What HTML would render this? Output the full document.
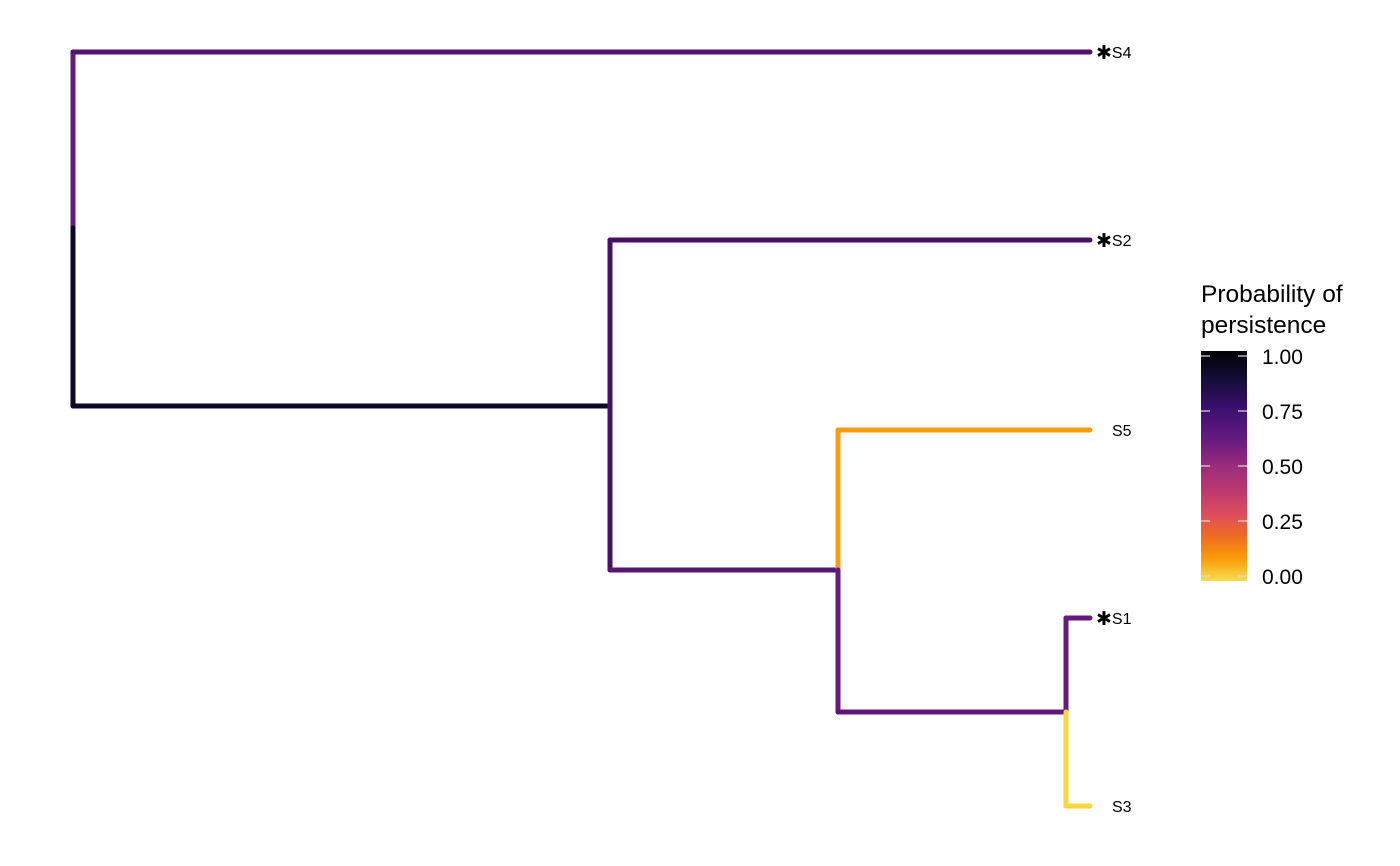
<!DOCTYPE html>
<html><head><meta charset="utf-8"><style>
html,body{margin:0;padding:0;background:#fff;}
svg{display:block;font-family:"Liberation Sans",sans-serif;}
</style></head><body>
<svg width="1400" height="866" viewBox="0 0 1400 866" xmlns="http://www.w3.org/2000/svg">
<defs>
<linearGradient id="g" x1="0" y1="0" x2="0" y2="1">
<stop offset="0" stop-color="#000004"/>
<stop offset="0.12" stop-color="#140e36"/>
<stop offset="0.25" stop-color="#3b0f70"/>
<stop offset="0.38" stop-color="#641a80"/>
<stop offset="0.5" stop-color="#9a2c7c"/>
<stop offset="0.62" stop-color="#c03a6e"/>
<stop offset="0.72" stop-color="#e0505a"/>
<stop offset="0.8" stop-color="#ed6925"/>
<stop offset="0.9" stop-color="#fb9b06"/>
<stop offset="1" stop-color="#f6dd50"/>
</linearGradient>
</defs>
<g stroke-width="5" stroke-linecap="round" fill="none">
<line x1="73" y1="52" x2="73" y2="228" stroke="#6a1b7a"/>
<line x1="73" y1="228" x2="73" y2="406" stroke="#0c0826"/>
<line x1="73" y1="52" x2="1090" y2="52" stroke="#52136f"/>
<line x1="73" y1="406" x2="610" y2="406" stroke="#0c0826"/>
<line x1="610" y1="240" x2="610" y2="570" stroke="#460f69"/>
<line x1="610" y1="240" x2="1090" y2="240" stroke="#460f69"/>
<line x1="610" y1="570" x2="838" y2="570" stroke="#571572"/>
<line x1="838" y1="430" x2="838" y2="570" stroke="#f89d13"/>
<line x1="838" y1="430" x2="1090" y2="430" stroke="#f89d13"/>
<line x1="838" y1="570" x2="838" y2="712" stroke="#661a7a"/>
<line x1="838" y1="712" x2="1066" y2="712" stroke="#5f1877"/>
<line x1="1066" y1="618" x2="1066" y2="712" stroke="#661a7a"/>
<line x1="1066" y1="618" x2="1090" y2="618" stroke="#661a7a"/>
<line x1="1066" y1="712" x2="1066" y2="806" stroke="#f9d540"/>
<line x1="1066" y1="806" x2="1090" y2="806" stroke="#f9d540"/>
</g>
<g font-size="16" fill="#000">
<text x="1096" y="58"><tspan font-size="19" dy="1">✱</tspan><tspan dy="-1">S4</tspan></text>
<text x="1096" y="246"><tspan font-size="19" dy="1">✱</tspan><tspan dy="-1">S2</tspan></text>
<text x="1112" y="436">S5</text>
<text x="1096" y="624"><tspan font-size="19" dy="1">✱</tspan><tspan dy="-1">S1</tspan></text>
<text x="1112" y="812">S3</text>
</g>
<text x="1201" y="302" font-size="24.5">Probability of</text>
<text x="1201" y="333" font-size="24.5">persistence</text>
<rect x="1201" y="351" width="46" height="230" fill="url(#g)"/>
<g stroke="#ddd" stroke-width="1.2">
<line x1="1201" y1="356" x2="1210" y2="356"/><line x1="1238" y1="356" x2="1247" y2="356"/>
<line x1="1201" y1="411" x2="1210" y2="411"/><line x1="1238" y1="411" x2="1247" y2="411"/>
<line x1="1201" y1="466" x2="1210" y2="466"/><line x1="1238" y1="466" x2="1247" y2="466"/>
<line x1="1201" y1="521" x2="1210" y2="521"/><line x1="1238" y1="521" x2="1247" y2="521"/>
<line x1="1201" y1="576" x2="1210" y2="576"/><line x1="1238" y1="576" x2="1247" y2="576"/>
</g>
<g font-size="21" fill="#000">
<text x="1262" y="364">1.00</text>
<text x="1262" y="419">0.75</text>
<text x="1262" y="474">0.50</text>
<text x="1262" y="529">0.25</text>
<text x="1262" y="584">0.00</text>
</g>
</svg>
</body></html>
